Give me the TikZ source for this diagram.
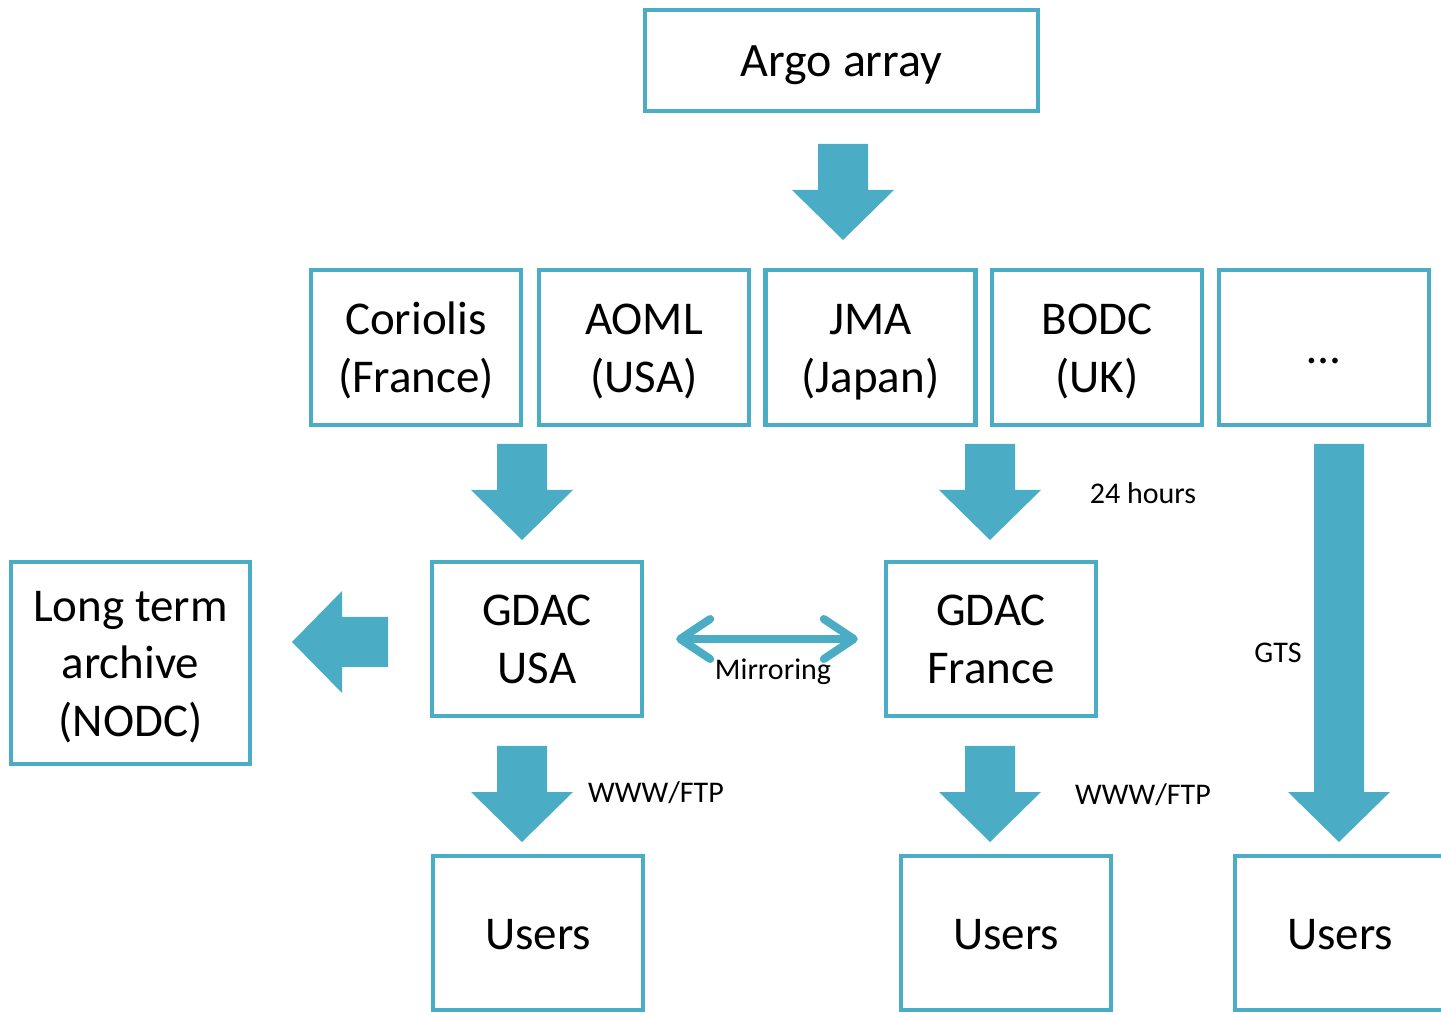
\documentclass[tikz,border=0pt]{standalone}
\usepackage{fontspec}
\setmainfont{Carlito}
\usetikzlibrary{arrows.meta}
\definecolor{argoBlue}{HTML}{4BACC6}
% first/last line struts, so the lines sit as in the slide
\newcommand{\toprl}{\rule{0pt}{22.3pt}}
\newcommand{\botrl}{\rule[-6.3pt]{0pt}{6.3pt}}

\tikzset{
    pics/fatarrow/.style={code={
        \fill[argoBlue] (-25,0) -- (-25,#1-50) -- (-51,#1-50) -- (0,#1)
            -- (51,#1-50) -- (25,#1-50) -- (25,0) -- cycle;
    }},
}

\begin{document}
\begin{tikzpicture}[
    x=0.5pt, y=-0.5pt,
    box/.style={draw=argoBlue, line width=2.2pt, fill=white, minimum width=105pt,
                minimum height=77.5pt, align=center, inner sep=0pt,
                font=\fontsize{23.5}{29}\selectfont},
    mirror/.style={draw=argoBlue, line width=4pt, line cap=round,
                   {Straight Barb[length=15pt, width=20pt, round]}-{Straight Barb[length=15pt, width=20pt, round]},
                   shorten <=16pt, shorten >=13pt},
    lbl/.style={font=\fontsize{15}{18}\selectfont, inner sep=0pt},
]
\useasboundingbox (0,0) rectangle (1441,1015);
\clip (0,0) rectangle (1441,1015);

% sources
\node[box, minimum width=196.5pt, minimum height=50.5pt,
      font=\fontsize{24}{29}\selectfont] (argo) at (841.5,60.5) {\toprl Argo array\botrl};
\node[box] (coriolis) at (416,347.5) {\toprl Coriolis\\(France)\botrl};
\node[box] (aoml) at (644,347.5) {\toprl AOML\\(USA)\botrl};
\node[box] (jma) at (870.5,347.5) {\toprl JMA\\(Japan)\botrl};
\node[box] (bodc) at (1097,347.5) {\toprl BODC\\(UK)\botrl};
\node[box] (others) at (1324,347.5) {\toprl\dots\botrl};

% data centres
\node[box, minimum height=77pt] (gdacusa) at (537,639) {\toprl GDAC\\USA\botrl};
\node[box, minimum height=77pt] (gdacfr) at (991,639) {\toprl GDAC\\France\botrl};
\node[box, minimum width=119.5pt, minimum height=101pt] (archive) at (130.5,663)
    {\toprl Long term\\archive\\(NODC)\botrl};

% users
\node[box, minimum height=77pt] (users1) at (538,933) {\toprl Users\botrl};
\node[box, minimum height=77pt] (users2) at (1006,933) {\toprl Users\botrl};
\node[box, minimum height=77pt] (users3) at (1340,933) {\toprl Users\botrl};

% flows
\pic at (843,144) {fatarrow=96};
\pic at (522,444) {fatarrow=96};
\pic at (990,444) {fatarrow=96};
\pic at (1339,444) {fatarrow=398};
\pic at (522,746) {fatarrow=96};
\pic at (990,746) {fatarrow=96};
\pic[rotate=-90] at (388,642) {fatarrow=96};
\draw[mirror] (gdacusa) -- (gdacfr);

\node[lbl] (hours) at (1143,493) {24 hours};
\node[lbl] (mirrlbl) at (773,672) {Mirroring};
\node[lbl] (gts) at (1278,653) {GTS};
\node[lbl] (www1) at (656,793) {WWW/FTP};
\node[lbl] (www2) at (1143,795) {WWW/FTP};
\end{tikzpicture}
\end{document}
